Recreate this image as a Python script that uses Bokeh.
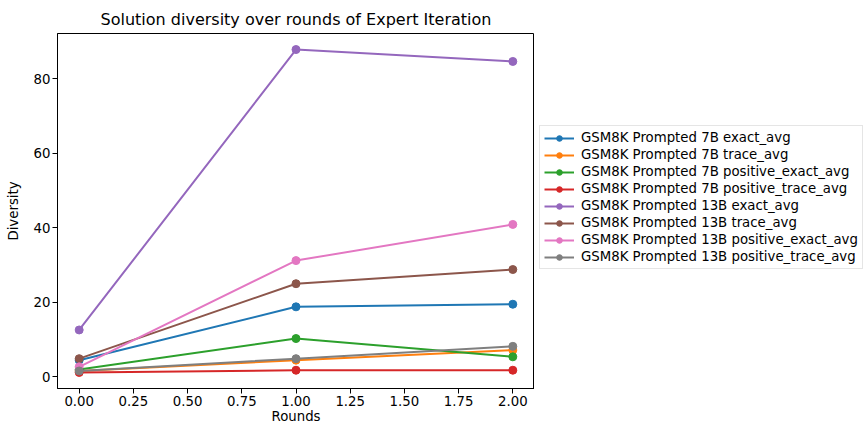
from bokeh.plotting import figure
from bokeh.models import Legend, FixedTicker, NumeralTickFormatter, Range1d
from bokeh.layouts import row
from bokeh.embed import file_html
from bokeh.resources import INLINE

rounds = [0, 1, 2]
labels = [
    "GSM8K Prompted 7B exact_avg",
    "GSM8K Prompted 7B trace_avg",
    "GSM8K Prompted 7B positive_exact_avg",
    "GSM8K Prompted 7B positive_trace_avg",
    "GSM8K Prompted 13B exact_avg",
    "GSM8K Prompted 13B trace_avg",
    "GSM8K Prompted 13B positive_exact_avg",
    "GSM8K Prompted 13B positive_trace_avg",
]
p7_exact = [4.5, 18.8, 19.5]
p7_trace = [1.6, 4.5, 7.2]
p7_pos_exact = [2.0, 10.3, 5.4]
p7_pos_trace = [1.2, 1.8, 1.8]
p13_exact = [12.6, 87.8, 84.6]
p13_trace = [4.9, 25.0, 28.8]
p13_pos_exact = [2.7, 31.2, 40.9]
p13_pos_trace = [1.6, 4.9, 8.2]
series = [p7_exact, p7_trace, p7_pos_exact, p7_pos_trace,
          p13_exact, p13_trace, p13_pos_exact, p13_pos_trace]
colors = ["#1f77b4", "#ff7f0e", "#2ca02c", "#d62728",
          "#9467bd", "#8c564b", "#e377c2", "#7f7f7f"]
x_ticks = [0, 0.25, 0.5, 0.75, 1.0, 1.25, 1.5, 1.75, 2.0]
y_ticks = [0, 20, 40, 60, 80]

FONT = "DejaVu Sans"
FS = "13.3px"
H = 426
MAIN_W, LEG_W = 534, 330

p = figure(width=MAIN_W, height=H, output_backend="svg", toolbar_location=None,
           x_range=Range1d(-0.1, 2.1), y_range=Range1d(-3.1, 92.1),
           title="Solution diversity over rounds of Expert Iteration",
           min_border_left=57, min_border_top=33, min_border_bottom=0,
           min_border_right=0)

p.title.align = "center"
p.title.text_font = FONT
p.title.text_font_size = "16px"
p.title.text_font_style = "normal"
p.title.text_color = "black"

p.xgrid.visible = False
p.ygrid.visible = False
p.outline_line_color = "black"
p.outline_line_width = 1
p.outline_line_alpha = 1

for ys, c in zip(series, colors):
    p.line(rounds, ys, line_color=c, line_width=2)
    p.scatter(rounds, ys, size=8, fill_color=c, line_color=c)

for ax in (p.xaxis[0], p.yaxis[0]):
    ax.axis_line_color = "black"
    ax.major_tick_line_color = "black"
    ax.minor_tick_line_color = None
    ax.major_tick_out = 5
    ax.major_tick_in = 0
    ax.major_label_text_font = FONT
    ax.major_label_text_font_size = FS
    ax.major_label_text_color = "black"
    ax.axis_label_text_font = FONT
    ax.axis_label_text_font_size = FS
    ax.axis_label_text_font_style = "normal"
    ax.axis_label_text_color = "black"
    ax.major_label_standoff = 2

p.xaxis[0].ticker = FixedTicker(ticks=x_ticks)
p.xaxis[0].formatter = NumeralTickFormatter(format="0.00")
p.yaxis[0].ticker = FixedTicker(ticks=y_ticks)
p.xaxis[0].axis_label = "Rounds"
p.yaxis[0].axis_label = "Diversity"
p.xaxis[0].axis_label_standoff = 0
p.yaxis[0].axis_label_standoff = 10

# legend panel (its renderers use the same data, but lie outside its view)
lg = figure(width=LEG_W, height=H, output_backend="svg", toolbar_location=None,
            x_range=Range1d(10, 11), y_range=Range1d(200, 201),
            x_axis_type=None, y_axis_type=None,
            min_border_left=0, min_border_right=0, min_border_top=0, min_border_bottom=0)
lg.xgrid.visible = False
lg.ygrid.visible = False
lg.outline_line_color = None

items = []
for lab, ys, c in zip(labels, series, colors):
    r1 = lg.line(rounds, ys, line_color=c, line_width=2)
    r2 = lg.scatter(rounds, ys, size=8, fill_color=c, line_color=c)
    items.append((lab, [r1, r2]))

legend = Legend(items=items, location=(5, 119))
legend.label_text_font = FONT
legend.label_text_font_size = FS
legend.label_text_color = "black"
legend.glyph_width = 30
legend.glyph_height = 14
legend.label_height = 14
legend.label_standoff = 7
legend.spacing = 2
legend.padding = 4
legend.margin = 0
legend.border_line_color = "#cccccc"
legend.border_line_width = 1
legend.background_fill_alpha = 0.8
lg.add_layout(legend, "center")

layout = row(p, lg)
open("out.html", "w").write(file_html(layout, INLINE))
